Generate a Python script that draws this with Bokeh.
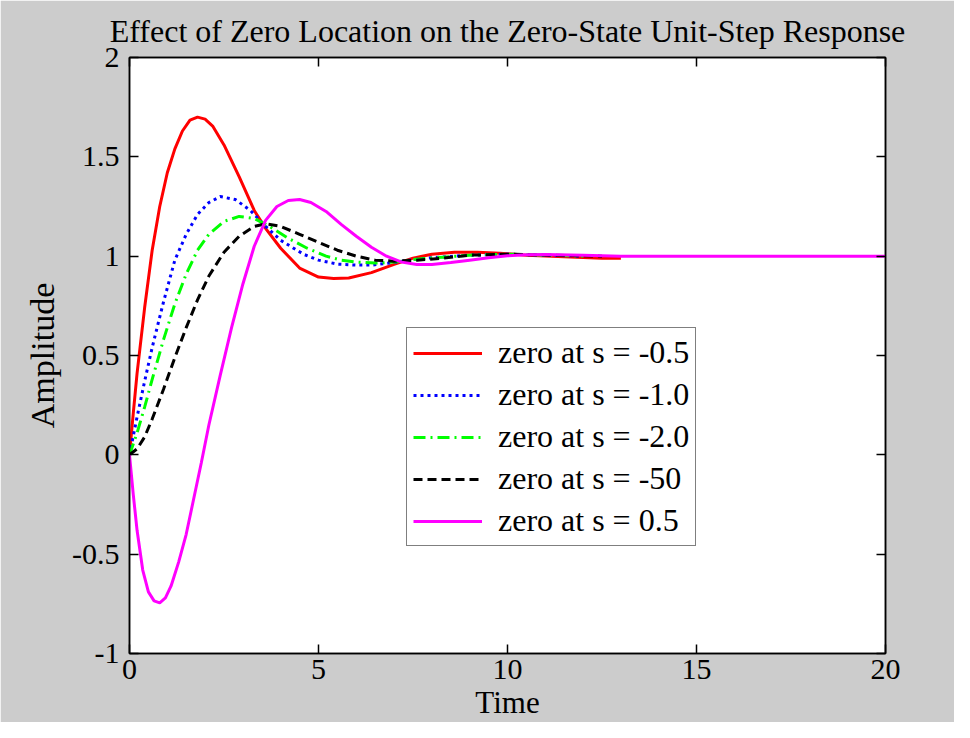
from bokeh.plotting import figure
from bokeh.models import LinearAxis, FixedTicker, Legend, LegendItem, Range1d
from bokeh.embed import file_html
from bokeh.resources import INLINE

# ---- data ----
t_red = [0, 0.1, 0.2, 0.4, 0.6, 0.8, 1.0, 1.2, 1.4, 1.6, 1.8, 2.0, 2.2, 2.5, 2.9, 3.3, 3.6, 4.0, 4.5, 5.0, 5.4,
         5.8, 6.4, 7.0, 7.5, 8.0, 8.6, 9.2, 9.8, 10.5, 11.5, 12.5, 13.0]
y_red = [0, 0.21, 0.41, 0.74, 1.03, 1.25, 1.42, 1.54, 1.63, 1.685, 1.70, 1.69, 1.655, 1.56, 1.40, 1.23, 1.14,
         1.04, 0.94, 0.895, 0.887, 0.89, 0.917, 0.959, 0.99, 1.01, 1.02, 1.02, 1.015, 1.005, 0.997, 0.99, 0.99]

t_blue = [0, 0.2, 0.4, 0.6, 0.9, 1.2, 1.5, 1.8, 2.1, 2.4, 2.8, 3.2, 3.6, 4.0, 4.6, 5.0, 5.5, 6.0, 6.4, 7.0,
          7.6, 8.2, 9.0, 10.0, 11.0, 12.0]
y_blue = [0, 0.19, 0.37, 0.54, 0.77, 0.98, 1.11, 1.21, 1.27, 1.30, 1.285, 1.23, 1.15, 1.08, 1.01, 0.98, 0.96,
          0.955, 0.955, 0.968, 0.985, 0.995, 1.005, 1.01, 1.005, 1.0]

t_green = [0, 0.2, 0.4, 0.6, 0.9, 1.2, 1.5, 1.8, 2.1, 2.5, 2.9, 3.3, 3.7, 4.2, 4.7, 5.2, 5.6, 6.0, 6.5, 7.0,
           7.6, 8.3, 9.0, 10.0, 11.0, 12.0]
y_green = [0, 0.11, 0.24, 0.38, 0.58, 0.76, 0.91, 1.03, 1.11, 1.175, 1.20, 1.19, 1.15, 1.09, 1.04, 1.00, 0.98,
           0.97, 0.965, 0.97, 0.985, 0.995, 1.005, 1.01, 1.005, 1.0]

t_black = [0, 0.2, 0.4, 0.6, 0.9, 1.2, 1.5, 1.8, 2.1, 2.5, 2.9, 3.3, 3.6, 4.0, 4.5, 5.0, 5.5, 6.0, 6.5, 7.0,
           7.6, 8.3, 9.0, 10.0, 11.0, 12.5]
y_black = [0, 0.03, 0.09, 0.18, 0.33, 0.49, 0.64, 0.78, 0.90, 1.02, 1.10, 1.15, 1.163, 1.15, 1.11, 1.07, 1.03,
           1.00, 0.98, 0.975, 0.98, 0.99, 1.005, 1.01, 1.005, 1.0]

t_mag = [0, 0.1, 0.2, 0.35, 0.5, 0.65, 0.8, 0.95, 1.1, 1.3, 1.5, 1.7, 1.9, 2.1, 2.4, 2.7, 3.0, 3.3, 3.6, 3.9,
         4.2, 4.5, 4.8, 5.2, 5.6, 6.0, 6.4, 6.8, 7.2, 7.6, 8.0, 8.5, 9.0, 9.5, 10.0, 10.5, 11.0, 12.0, 13.0,
         15.0, 20.0]
y_mag = [0, -0.20, -0.38, -0.58, -0.69, -0.735, -0.745, -0.72, -0.66, -0.54, -0.40, -0.22, -0.04, 0.15, 0.40,
         0.64, 0.86, 1.05, 1.18, 1.25, 1.28, 1.285, 1.27, 1.225, 1.16, 1.10, 1.045, 1.0, 0.97, 0.958, 0.958,
         0.968, 0.98, 0.992, 1.002, 1.007, 1.008, 1.004, 1.0, 1.0, 1.0]

labels = ["zero at s = -0.5", "zero at s = -1.0", "zero at s = -2.0", "zero at s = -50", "zero at s = 0.5"]
x_ticks = [0, 5, 10, 15, 20]
y_ticks = [-1, -0.5, 0, 0.5, 1, 1.5, 2]
y_tick_labels = ["-1", "-0.5", "0", "0.5", "1", "1.5", "2"]

FONT = "Liberation Serif"
GREY = "#cccccc"

p = figure(width=954, height=722, output_backend="svg", toolbar_location=None,
           x_range=Range1d(0, 20), y_range=Range1d(-1, 2),
           title="Effect of Zero Location on the Zero-State Unit-Step Response",
           x_axis_label="Time", y_axis_label="Amplitude",
           min_border_left=129, min_border_right=69, min_border_top=57, min_border_bottom=67)
p.border_fill_color = GREY
p.background_fill_color = "white"
p.outline_line_color = "black"
p.outline_line_width = 1.5
p.grid.visible = False

p.title.text_font = FONT
p.title.text_font_size = "32px"
p.title.text_font_style = "normal"
p.title.text_color = "black"
p.title.align = "center"
p.title.offset = 0
p.title.standoff = 18

for ax in (p.xaxis[0], p.yaxis[0]):
    ax.axis_label_text_font = FONT
    ax.axis_label_text_font_style = "normal"
    ax.axis_label_text_color = "black"
    ax.major_label_text_font = FONT
    ax.major_label_text_font_size = "30px"
    ax.major_label_text_color = "black"
    ax.major_tick_in = 9
    ax.major_tick_out = 0
    ax.minor_tick_line_color = None
    ax.axis_line_color = "black"
    ax.axis_line_width = 1.5
    ax.major_tick_line_width = 1.5

p.xaxis[0].axis_label_text_font_size = "31px"
p.yaxis[0].axis_label_text_font_size = "34px"
p.xaxis[0].ticker = FixedTicker(ticks=x_ticks)
p.yaxis[0].ticker = FixedTicker(ticks=y_ticks)
p.yaxis[0].major_label_overrides = {v: s for v, s in zip(y_ticks, y_tick_labels)}
p.xaxis[0].major_label_standoff = 6
p.yaxis[0].major_label_standoff = 10
p.xaxis[0].axis_label_standoff = 3
p.yaxis[0].axis_label_standoff = 8

for loc in ("above", "right"):
    ax = LinearAxis(ticker=FixedTicker(ticks=x_ticks if loc == "above" else y_ticks))
    ax.major_label_text_font_size = "0px"
    ax.major_label_text_alpha = 0
    ax.major_tick_in = 9
    ax.major_tick_out = 0
    ax.minor_tick_line_color = None
    ax.axis_line_width = 1.5
    ax.major_tick_line_width = 1.5
    ax.major_label_standoff = 0
    p.add_layout(ax, loc)

r1 = p.line(t_red, y_red, line_color="#ff0000", line_width=3)
r2 = p.line(t_blue, y_blue, line_color="#0000ff", line_width=3, line_dash="3 4")
r3 = p.line(t_green, y_green, line_color="#00ff00", line_width=3, line_dash="12 5 2 5")
r4 = p.line(t_black, y_black, line_color="#000000", line_width=3, line_dash="9 5")
r5 = p.line(t_mag, y_mag, line_color="#ff00ff", line_width=3)

legend = Legend(items=[LegendItem(label=l, renderers=[r]) for l, r in zip(labels, [r1, r2, r3, r4, r5])],
                location=(277, 107))
legend.label_text_font = FONT
legend.label_text_font_size = "32px"
legend.label_text_color = "black"
legend.glyph_width = 69
legend.glyph_height = 30
legend.label_height = 32
legend.spacing = 5
legend.padding = 6
legend.margin = 0
legend.label_standoff = 16
legend.border_line_color = "black"
legend.border_line_width = 1.5
legend.background_fill_alpha = 1
p.add_layout(legend, "center")

open("out.html", "w").write(file_html(p, INLINE))
